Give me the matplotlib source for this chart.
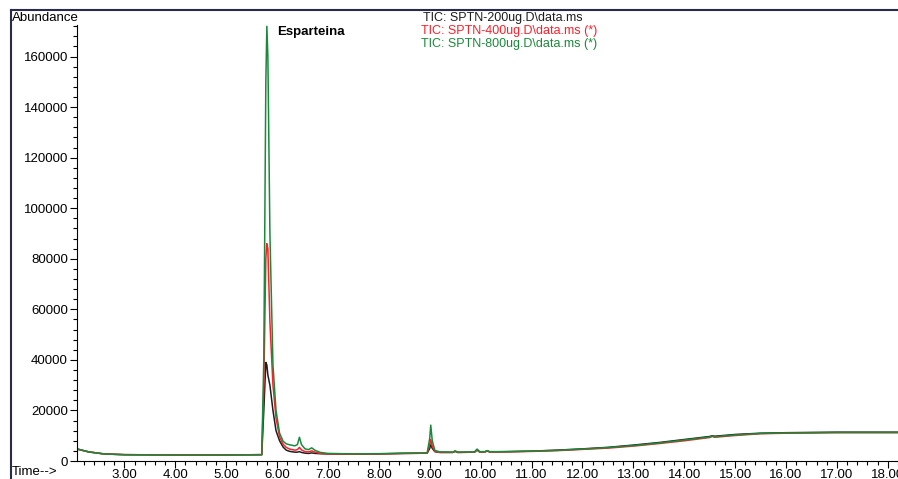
import matplotlib
matplotlib.use("Agg")
import matplotlib.pyplot as plt
from matplotlib.lines import Line2D
from matplotlib.ticker import MultipleLocator, FormatStrFormatter

plt.rcParams['font.family'] = ['Liberation Sans', 'DejaVu Sans']

# retention time (min)
tiempo = [2.08, 2.3, 2.6, 3.0, 4.0, 5.0, 5.70, 5.74, 5.78, 5.80, 5.82, 5.86,
          5.92, 5.98, 6.05, 6.12, 6.18, 6.25, 6.35, 6.40, 6.44, 6.48, 6.55,
          6.62, 6.68, 6.75, 6.85, 7.0, 7.5, 8.0, 8.5, 8.95, 9.0, 9.02, 9.05,
          9.1, 9.2, 9.45, 9.5, 9.55, 9.88, 9.93, 9.98, 10.08, 10.13, 10.18,
          10.5, 11.0, 11.5, 12.0, 12.5, 13.0, 13.5, 14.0, 14.5, 14.55, 14.6,
          15.0, 15.5, 16.0, 16.5, 17.0, 17.5, 18.0, 18.2]

# SPTN-200ug
tic_200 = [4700, 3600, 2800, 2500, 2400, 2400, 2500, 20000, 39000, 38000,
           34000, 30000, 20000, 12000, 8000, 5500, 4300, 3800, 3500, 3500,
           3700, 3400, 3100, 3000, 3200, 3000, 2900, 2800, 2700, 2800, 3000,
           3100, 5000, 6500, 5000, 3700, 3400, 3400, 3800, 3400, 3500, 4300,
           3600, 3600, 3900, 3600, 3700, 3900, 4300, 4800, 5400, 6300, 7300,
           8500, 9700, 10000, 9800, 10500, 11000, 11200, 11300, 11400, 11400,
           11400, 11400]

# SPTN-400ug
tic_400 = [4700, 3600, 2800, 2500, 2400, 2400, 2500, 30000, 80000, 86000,
           84000, 55000, 30000, 17000, 9500, 6600, 5400, 4700, 4300, 4500,
           5400, 4400, 3700, 3600, 4000, 3500, 3000, 2800, 2700, 2800, 3000,
           3100, 6500, 8500, 5800, 3800, 3400, 3400, 3900, 3400, 3500, 4500,
           3600, 3600, 4000, 3600, 3600, 3800, 4100, 4600, 5100, 5900, 6900,
           8000, 9300, 9700, 9400, 10100, 10800, 11000, 11100, 11200, 11200,
           11200, 11200]

# SPTN-800ug
tic_800 = [4700, 3600, 2800, 2500, 2400, 2400, 2500, 40000, 150000, 172000,
           160000, 90000, 38000, 20000, 11000, 7800, 6800, 6400, 6000, 6500,
           9400, 6500, 4800, 4500, 5200, 4200, 3400, 3000, 2800, 2900, 3100,
           3200, 9000, 14200, 8000, 4200, 3600, 3500, 4000, 3500, 3600, 4700,
           3700, 3700, 4100, 3700, 3700, 3900, 4200, 4700, 5300, 6100, 7100,
           8300, 9500, 9900, 9600, 10300, 10900, 11100, 11200, 11300, 11300,
           11300, 11300]

etiquetas = ['TIC: SPTN-200ug.D\\data.ms',
             'TIC: SPTN-400ug.D\\data.ms (*)',
             'TIC: SPTN-800ug.D\\data.ms (*)']
colores = ['#1e1e1e', '#ff1f2a', '#1a8a3a']

fig = plt.figure(figsize=(8.98, 4.79), dpi=100)
ax = fig.add_axes([77 / 898, 18 / 479, 1 - 77 / 898, 436 / 479])

for serie, col in zip([tic_200, tic_400, tic_800], colores):
    ax.plot(tiempo, serie, color=col, lw=1.1)

ax.set_xlim(2.07, 18.2)
ax.set_ylim(0, 172500)

ax.xaxis.set_major_locator(MultipleLocator(1))
ax.xaxis.set_minor_locator(MultipleLocator(0.2))
ax.xaxis.set_major_formatter(FormatStrFormatter('%.2f'))
ax.yaxis.set_major_locator(MultipleLocator(20000))
ax.yaxis.set_minor_locator(MultipleLocator(4000))
ax.tick_params(axis='y', which='major', direction='out', length=5,
               width=0.8, labelsize=9.5, pad=1.5)
ax.tick_params(axis='x', which='major', direction='out', length=5,
               width=0.8, labelsize=9.5, pad=0.5)
ax.tick_params(axis='both', which='minor', direction='out', length=3,
               width=0.8)
ax.set_xticks([t for t in range(3, 19)])

for lado in ['top', 'right']:
    ax.spines[lado].set_visible(False)
for lado in ['left', 'bottom']:
    ax.spines[lado].set_linewidth(0.8)

# marco exterior
fig.add_artist(Line2D([11 / 898, 1], [1 - 10 / 479, 1 - 10 / 479],
                      transform=fig.transFigure, color='#2a2a4a', lw=1.5))
fig.add_artist(Line2D([11 / 898, 11 / 898], [0, 1 - 10 / 479],
                      transform=fig.transFigure, color='#2a2a4a', lw=1.5))

fig.text(12 / 898, 1 - 18 / 479, 'Abundance', fontsize=9.5, va='center',
         ha='left')
fig.text(12 / 898, 1 - 472 / 479, 'Time-->', fontsize=9.5, va='center',
         ha='left')
fig.text(277 / 898, 1 - 32 / 479, 'Esparteina', fontsize=9.5,
         fontweight='bold', va='center', ha='left')

for i, (txt, col) in enumerate(zip(etiquetas, colores)):
    cx = 503 if i == 0 else 509
    fig.text(cx / 898, 1 - (17.5 + 13.5 * i) / 479, txt, fontsize=9,
             color=col, va='center', ha='center')

fig.savefig('out.png', dpi=100)
